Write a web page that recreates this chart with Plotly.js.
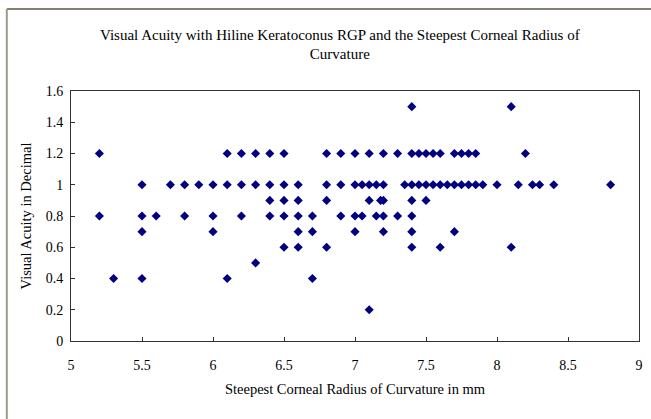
<!DOCTYPE html>
<html>
<head>
<meta charset="utf-8">
<script src="https://cdn.plot.ly/plotly-3.0.1.min.js"></script>
<style>
html,body{margin:0;padding:0;background:#fff;}
#chart{width:651px;height:419px;}
</style>
</head>
<body>
<div id="chart"></div>
<script>
// Steepest corneal radius of curvature (mm)
const radius = [
  5.2, 5.2,
  5.3,
  5.5, 5.5, 5.5, 5.5,
  5.6,
  5.7,
  5.8, 5.8,
  5.9,
  6.0, 6.0, 6.0,
  6.1, 6.1, 6.1,
  6.2, 6.2, 6.2,
  6.3, 6.3, 6.3,
  6.4, 6.4, 6.4, 6.4,
  6.5, 6.5, 6.5, 6.5, 6.5,
  6.6, 6.6, 6.6, 6.6, 6.6,
  6.7, 6.7, 6.7,
  6.8, 6.8, 6.8, 6.8,
  6.9, 6.9, 6.9,
  7.0, 7.0, 7.0, 7.0,
  7.05, 7.05,
  7.1, 7.1, 7.1, 7.1,
  7.15, 7.15,
  7.18,
  7.2, 7.2, 7.2, 7.2, 7.2,
  7.3, 7.3,
  7.35,
  7.4, 7.4, 7.4, 7.4, 7.4, 7.4, 7.4,
  7.45, 7.45,
  7.5, 7.5, 7.5,
  7.55, 7.55,
  7.6, 7.6, 7.6,
  7.65,
  7.7, 7.7, 7.7,
  7.75, 7.75,
  7.8, 7.8,
  7.85, 7.85,
  7.9,
  8.0,
  8.1, 8.1,
  8.15,
  8.2,
  8.25,
  8.3,
  8.4,
  8.8
];
// Visual acuity (decimal)
const acuity = [
  1.2, 0.8,
  0.4,
  1.0, 0.8, 0.7, 0.4,
  0.8,
  1.0,
  1.0, 0.8,
  1.0,
  1.0, 0.8, 0.7,
  1.2, 1.0, 0.4,
  1.2, 1.0, 0.8,
  1.2, 1.0, 0.5,
  1.2, 1.0, 0.9, 0.8,
  1.2, 1.0, 0.9, 0.8, 0.6,
  1.0, 0.9, 0.8, 0.7, 0.6,
  0.8, 0.7, 0.4,
  1.2, 1.0, 0.9, 0.6,
  1.2, 1.0, 0.8,
  1.2, 1.0, 0.8, 0.7,
  1.0, 0.8,
  1.2, 1.0, 0.9, 0.2,
  1.0, 0.8,
  0.9,
  1.2, 1.0, 0.9, 0.8, 0.7,
  1.2, 0.8,
  1.0,
  1.5, 1.2, 1.0, 0.9, 0.8, 0.7, 0.6,
  1.2, 1.0,
  1.2, 1.0, 0.9,
  1.2, 1.0,
  1.2, 1.0, 0.6,
  1.0,
  1.2, 1.0, 0.7,
  1.2, 1.0,
  1.2, 1.0,
  1.2, 1.0,
  1.0,
  1.0,
  1.5, 0.6,
  1.0,
  1.2,
  1.0,
  1.0,
  1.0,
  1.0
];
const xTickVals = [5, 5.5, 6, 6.5, 7, 7.5, 8, 8.5, 9];
const xTickText = ['5', '5.5', '6', '6.5', '7', '7.5', '8', '8.5', '9'];
const yTickVals = [0, 0.2, 0.4, 0.6, 0.8, 1, 1.2, 1.4, 1.6];
const yTickText = ['0', '0.2', '0.4', '0.6', '0.8', '1', '1.2', '1.4', '1.6'];

const titleText = 'Visual Acuity with Hiline Keratoconus RGP and the Steepest Corneal Radius of<br>Curvature';
const xTitle = 'Steepest Corneal Radius of Curvature in mm';
const yTitle = 'Visual Acuity in Decimal';

const serif = '"Liberation Serif", "DejaVu Serif", serif';

const trace = {
  x: radius,
  y: acuity,
  type: 'scatter',
  mode: 'markers',
  marker: {symbol: 'diamond', size: 7, color: '#000080'},
  hoverinfo: 'x+y'
};

const layout = {
  width: 651,
  height: 419,
  margin: {l: 71, r: 12, t: 91, b: 78},
  paper_bgcolor: '#ffffff',
  plot_bgcolor: '#ffffff',
  showlegend: false,
  font: {family: serif, size: 12, color: '#000'},
  title: {
    text: titleText,
    font: {family: serif, size: 15, color: '#000'},
    xref: 'container', x: 0.522, xanchor: 'center',
    yref: 'container', y: 0.905, yanchor: 'top'
  },
  xaxis: {
    range: [5, 9],
    tickvals: xTickVals,
    ticktext: xTickText,
    ticks: 'inside',
    ticklen: 4,
    tickcolor: '#333',
    ticklabelstandoff: 11,
    showgrid: false,
    zeroline: false,
    showline: true,
    linecolor: '#333',
    linewidth: 1,
    mirror: true,
    tickfont: {family: serif, size: 14, color: '#000'},
    title: {text: xTitle, font: {family: serif, size: 14.5, color: '#000'}, standoff: 12}
  },
  yaxis: {
    range: [0, 1.6],
    tickvals: yTickVals,
    ticktext: yTickText,
    ticks: 'inside',
    ticklen: 4,
    tickcolor: '#333',
    ticklabelstandoff: 4,
    showgrid: false,
    zeroline: false,
    showline: true,
    linecolor: '#333',
    linewidth: 1,
    mirror: true,
    tickfont: {family: serif, size: 14, color: '#000'},
    title: {text: yTitle, font: {family: serif, size: 14.5, color: '#000'}, standoff: 10}
  },
  shapes: [
    {type: 'line', xref: 'paper', yref: 'paper', x0: -0.113, x1: 1.03, y0: 1.328, y1: 1.328,
     line: {color: '#86806f', width: 2}},
    {type: 'line', xref: 'paper', yref: 'paper', x0: -0.113, x1: -0.113, y0: 1.328, y1: -0.32,
     line: {color: '#a09a8c', width: 2}}
  ]
};

Plotly.newPlot('chart', [trace], layout, {displayModeBar: false, staticPlot: true});
</script>
</body>
</html>
